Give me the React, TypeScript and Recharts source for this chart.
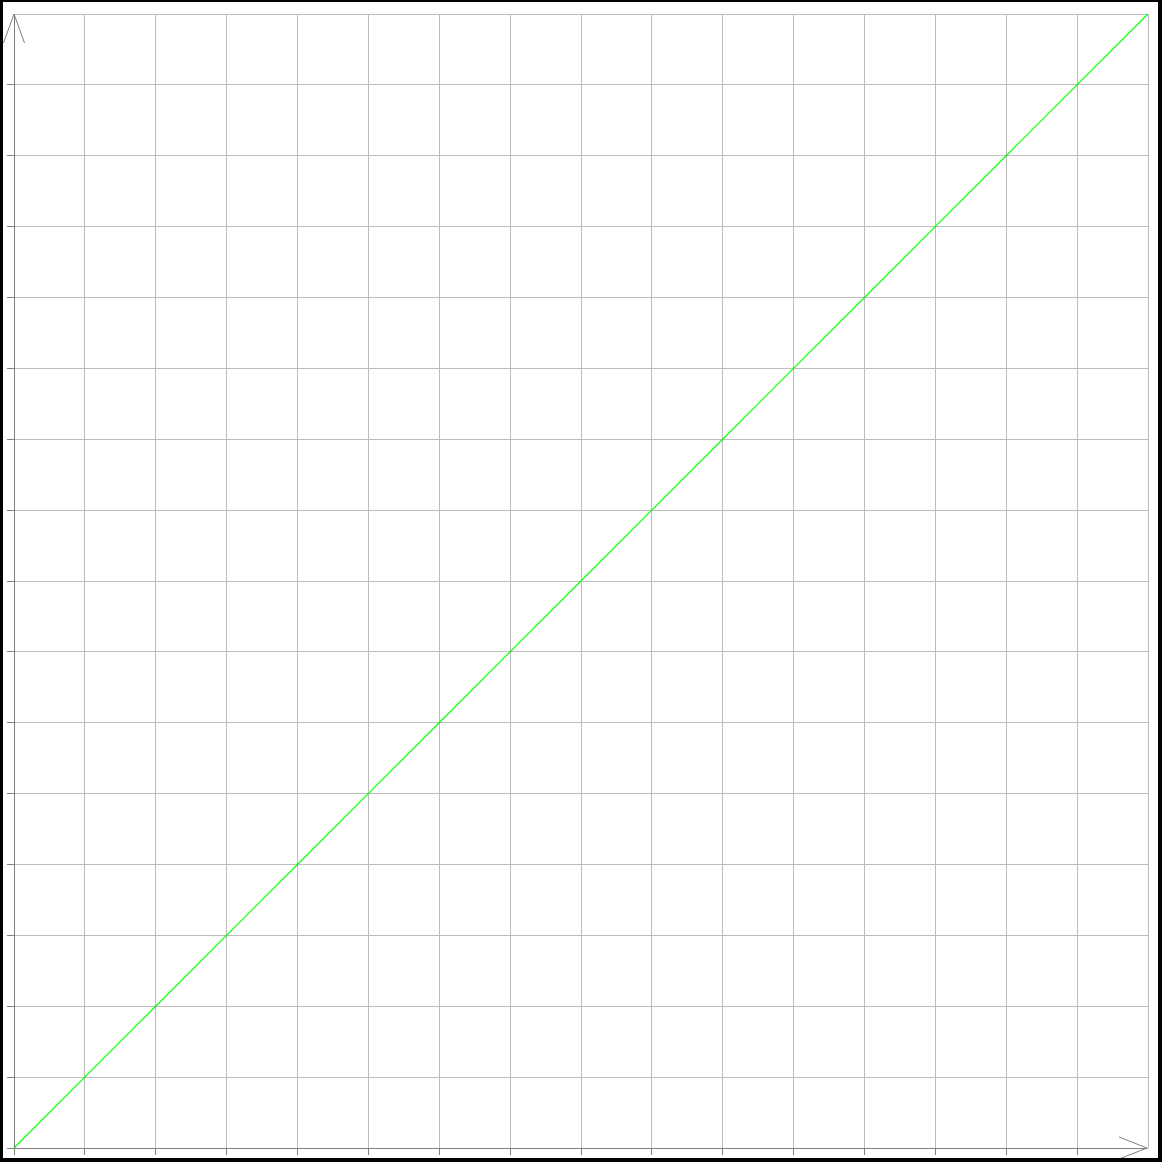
import React from 'react';
import {
  LineChart,
  Line,
  XAxis,
  YAxis,
  CartesianGrid
} from 'recharts';

const xValues = [0, 1, 2, 3, 4, 5, 6, 7, 8, 9, 10, 11, 12, 13, 14, 15, 16];
const yValues = [0, 1, 2, 3, 4, 5, 6, 7, 8, 9, 10, 11, 12, 13, 14, 15, 16];
const gridValues = [0, 1, 2, 3, 4, 5, 6, 7, 8, 9, 10, 11, 12, 13, 14, 15, 16];
const tickValues = [0, 1, 2, 3, 4, 5, 6, 7, 8, 9, 10, 11, 12, 13, 14, 15];

const data = xValues.map((x, i) => ({ x, value: yValues[i] }));

const AXIS = '#808080';
const GRID = '#bdbdbd';
const LINE = '#00ff00';

const UpArrow = (props: any) => {
  const vb = props.viewBox;
  if (!vb) return null;
  const ax = vb.x + vb.width;
  const ay = vb.y;
  return (
    <path
      d={`M${ax - 10.5},${ay + 29} L${ax},${ay} L${ax + 10.5},${ay + 29}`}
      stroke={AXIS}
      fill="none"
      strokeWidth={1}
    />
  );
};

const RightArrow = (props: any) => {
  const vb = props.viewBox;
  if (!vb) return null;
  const ax = vb.x + vb.width - 1;
  const ay = vb.y;
  return (
    <path
      d={`M${ax - 28},${ay - 11} L${ax},${ay} L${ax - 28},${ay + 11}`}
      stroke={AXIS}
      fill="none"
      strokeWidth={1}
    />
  );
};

export default function App() {
  return (
    <div style={{ position: 'absolute', top: 0, left: 0, width: 1162, height: 1162, background: '#fff' }}>
      <LineChart
        width={1162}
        height={1162}
        data={data}
        margin={{ top: 14, right: 14, bottom: 0, left: 0 }}
      >
        <CartesianGrid
          stroke={GRID}
          strokeWidth={1}
          horizontalValues={gridValues}
          verticalValues={gridValues}
          shapeRendering="crispEdges"
        />
        <XAxis
          dataKey="x"
          type="number"
          domain={[0, 16]}
          ticks={tickValues}
          height={14}
          tickSize={7}
          tickFormatter={() => ''}
          axisLine={{ stroke: AXIS, shapeRendering: 'crispEdges' }}
          tickLine={{ stroke: AXIS, shapeRendering: 'crispEdges' }}
          label={{ content: <RightArrow /> }}
        />
        <YAxis
          type="number"
          domain={[0, 16]}
          ticks={tickValues}
          width={14}
          tickSize={7}
          tickFormatter={() => ''}
          axisLine={{ stroke: AXIS, shapeRendering: 'crispEdges' }}
          tickLine={{ stroke: AXIS, shapeRendering: 'crispEdges' }}
          label={{ content: <UpArrow /> }}
        />
        <Line
          type="linear"
          dataKey="value"
          stroke={LINE}
          style={{ stroke: LINE }}
          strokeWidth={1.2}
          dot={false}
          activeDot={false}
          isAnimationActive={false}
        />
      </LineChart>
      <div
        style={{
          position: 'absolute',
          top: 0,
          left: 0,
          width: 1162,
          height: 1162,
          boxSizing: 'border-box',
          borderStyle: 'solid',
          borderColor: '#000',
          borderWidth: '2px 4px 4px 3px',
          pointerEvents: 'none'
        }}
      />
    </div>
  );
}
